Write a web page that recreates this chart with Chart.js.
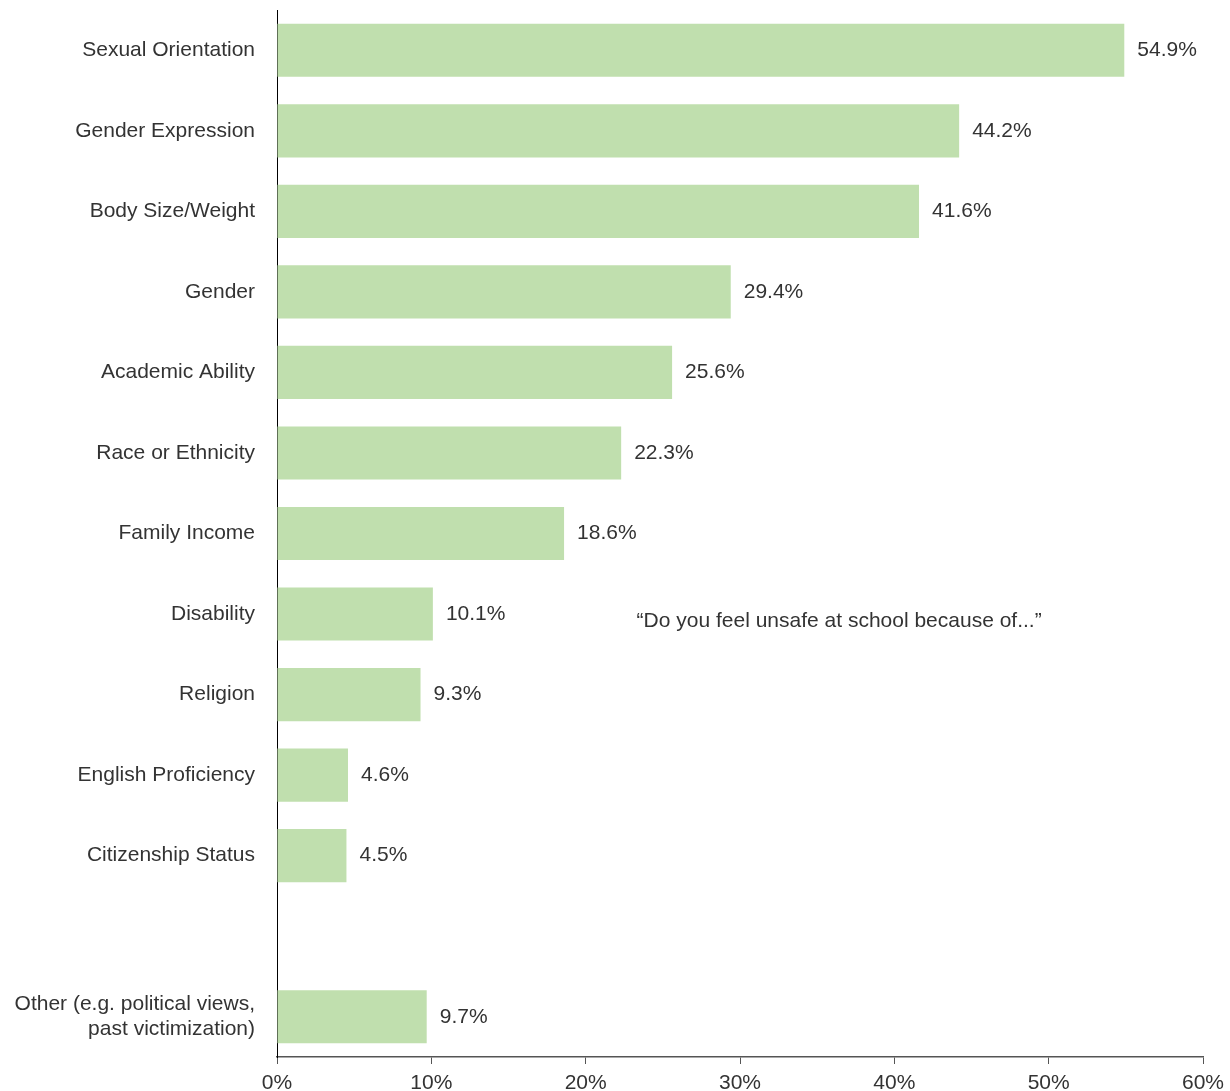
<!DOCTYPE html>
<html>
<head>
<meta charset="utf-8">
<script src="https://cdn.jsdelivr.net/npm/chart.js@4.4.0/dist/chart.umd.min.js"></script>
<style>
  html, body { margin: 0; padding: 0; background: #fff; }
  #wrap { width: 1230px; height: 1091px; position: relative; }
</style>
</head>
<body>
<div id="wrap"><canvas id="myChart"></canvas></div>
<script>
const categories = [
  "Sexual Orientation",
  "Gender Expression",
  "Body Size/Weight",
  "Gender",
  "Academic Ability",
  "Race or Ethnicity",
  "Family Income",
  "Disability",
  "Religion",
  "English Proficiency",
  "Citizenship Status",
  "",
  ["Other (e.g. political views,", "past victimization)"],
];
const values = [54.9, 44.2, 41.6, 29.4, 25.6, 22.3, 18.6, 10.1, 9.3, 4.6, 4.5, null, 9.7];
const xTicks = [0, 10, 20, 30, 40, 50, 60];
const note = "\u201CDo you feel unsafe at school because of...\u201D";

const FONT = "'Liberation Sans', Arial, sans-serif";
const TEXT = "#333";

const valueLabels = {
  id: "valueLabels",
  afterDatasetsDraw(chart) {
    const ctx = chart.ctx;
    const meta = chart.getDatasetMeta(0);
    ctx.save();
    ctx.font = "21px " + FONT;
    ctx.fillStyle = TEXT;
    ctx.textAlign = "left";
    ctx.textBaseline = "middle";
    meta.data.forEach((bar, i) => {
      if (values[i] == null) return;
      ctx.fillText(values[i].toFixed(1) + "%", bar.x + 13, bar.y);
    });
    // question note
    const xs = chart.scales.x;
    const ys = chart.scales.y;
    ctx.fillText(note, xs.getPixelForValue(23.3), ys.getPixelForValue(7) + 7);
    ctx.restore();
  },
};

new Chart(document.getElementById("myChart"), {
  type: "bar",
  data: {
    labels: categories,
    datasets: [
      {
        data: values,
        backgroundColor: "#c0dfae",
        barPercentage: 0.66,
        categoryPercentage: 1,
      },
    ],
  },
  options: {
    indexAxis: "y",
    responsive: true,
    maintainAspectRatio: false,
    animation: false,
    layout: { padding: { top: 10, right: 27, left: 0, bottom: 0 } },
    plugins: {
      legend: { display: false },
      tooltip: { enabled: false },
    },
    scales: {
      x: {
        min: 0,
        max: 60,
        afterBuildTicks: (scale) => {
          scale.ticks = xTicks.map((v) => ({ value: v }));
        },
        afterFit: (scale) => {
          scale.height = 34;
          scale.paddingLeft = 0;
          scale.paddingRight = 0;
        },
        border: { color: "#555", width: 1.5 },
        grid: {
          drawOnChartArea: false,
          drawTicks: true,
          tickLength: 7,
          color: "#555",
          lineWidth: 1,
        },
        ticks: {
          padding: 7,
          color: TEXT,
          font: { size: 21, family: FONT },
          callback: (v) => v + "%",
          maxRotation: 0,
        },
      },
      y: {
        afterFit: (scale) => {
          scale.width = 277;
          scale.paddingTop = 0;
          scale.paddingBottom = 0;
        },
        border: { color: "#000", width: 1 },
        grid: { display: false, drawTicks: false },
        ticks: {
          padding: 22,
          color: TEXT,
          font: { size: 21, family: FONT, lineHeight: 1.2 },
        },
      },
    },
  },
  plugins: [valueLabels],
});
</script>
</body>
</html>
